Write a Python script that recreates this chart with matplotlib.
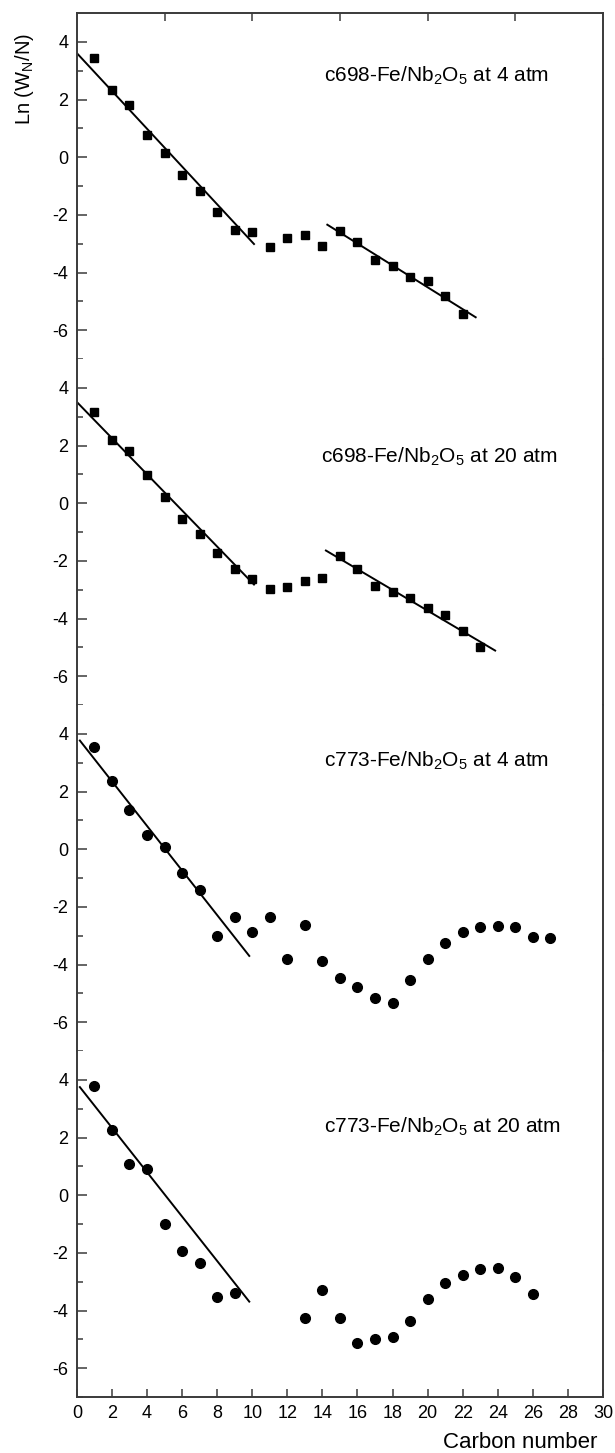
import numpy as np
import matplotlib
matplotlib.use("Agg")
import matplotlib.pyplot as plt

plt.rcParams["font.family"] = ["Liberation Sans", "DejaVu Sans"]
plt.rcParams["mathtext.fontset"] = "custom"
plt.rcParams["mathtext.rm"] = "Liberation Sans"
plt.rcParams["mathtext.default"] = "regular"
plt.rcParams["axes.unicode_minus"] = False

# panel 1: c698 at 4 atm (squares)
n1 = list(range(1, 23))
y1 = [3.45, 2.32, 1.80, 0.78, 0.14, -0.60, -1.18, -1.91, -2.51, -2.60, -3.12,
      -2.81, -2.69, -3.07, -2.55, -2.95, -3.56, -3.76, -4.14, -4.30, -4.80, -5.42]
fit1a_x, fit1a_y = [0.0, 10.1], [3.61, -3.01]
fit1b_x, fit1b_y = [14.28, 22.74], [-2.34, -5.55]

# panel 2: c698 at 20 atm (squares)
n2 = list(range(1, 24))
y2 = [3.16, 2.18, 1.81, 0.99, 0.21, -0.54, -1.06, -1.74, -2.28, -2.63, -2.97,
      -2.89, -2.71, -2.60, -1.82, -2.28, -2.88, -3.09, -3.30, -3.63, -3.88, -4.42, -5.00]
fit2a_x, fit2a_y = [0.0, 10.1], [3.51, -2.82]
fit2b_x, fit2b_y = [14.2, 23.85], [-1.64, -5.11]

# panel 3: c773 at 4 atm (circles)
n3 = list(range(1, 28))
y3 = [3.54, 2.35, 1.37, 0.50, 0.07, -0.83, -1.41, -3.01, -2.34, -2.88, -2.34,
      -3.82, -2.63, -3.86, -4.45, -4.77, -5.17, -5.34, -4.53, -3.82, -3.26,
      -2.88, -2.70, -2.65, -2.68, -3.05, -3.09]
fit3_x, fit3_y = [0.17, 9.83], [3.77, -3.70]

# panel 4: c773 at 20 atm (circles)
n4 = [1, 2, 3, 4, 5, 6, 7, 8, 9, 13, 14, 15, 16, 17, 18, 19, 20, 21, 22, 23, 24, 25, 26]
y4 = [3.80, 2.25, 1.09, 0.91, -0.99, -1.95, -2.36, -3.52, -3.40, -4.27, -3.28,
      -4.27, -5.11, -4.99, -4.91, -4.36, -3.61, -3.03, -2.76, -2.57, -2.53, -2.82, -3.42]
fit4_x, fit4_y = [0.17, 9.83], [3.75, -3.69]

labels = [r"c698-Fe/Nb$_2$O$_5$ at 4 atm",
          r"c698-Fe/Nb$_2$O$_5$ at 20 atm",
          r"c773-Fe/Nb$_2$O$_5$ at 4 atm",
          r"c773-Fe/Nb$_2$O$_5$ at 20 atm"]
label_pos = [(14.1, 0.82), (13.9, 0.717), (14.1, 0.84), (14.1, 0.78)]

panels = [
    (n1, y1, "s", [(fit1a_x, fit1a_y), (fit1b_x, fit1b_y)]),
    (n2, y2, "s", [(fit2a_x, fit2a_y), (fit2b_x, fit2b_y)]),
    (n3, y3, "o", [(fit3_x, fit3_y)]),
    (n4, y4, "o", [(fit4_x, fit4_y)]),
]

fig = plt.figure(figsize=(6.15, 14.53), dpi=100)
left, right = 0.125, 0.9805
bottom, top = 0.0385, 0.991
h = (top - bottom) / 4
spine_c = "#3a3a3a"

for i, (xs, ys, mk, fits) in enumerate(panels):
    ax = fig.add_axes([left, top - (i + 1) * h, right - left, h])
    if mk == "s":
        ax.plot(xs, ys, "s", color="black", markersize=5.5, linestyle="none")
    else:
        ax.plot(xs, ys, "o", color="black", markersize=7, linestyle="none")
    for fx, fy in fits:
        ax.plot(fx, fy, color="black", linewidth=1.4)
    ax.text(label_pos[i][0], label_pos[i][1], labels[i],
            transform=ax.get_xaxis_transform(), fontsize=15, va="center")

    ax.set_xlim(0, 30)
    ax.set_ylim(-7, 5)
    ax.set_yticks([-6, -4, -2, 0, 2, 4])
    ax.set_yticks([-7, -5, -3, -1, 1, 3], minor=True)
    ax.tick_params(axis="y", which="major", direction="in", length=7, width=1.1,
                   color=spine_c, labelsize=13, pad=6, right=False)
    ax.tick_params(axis="y", which="minor", direction="in", length=4, width=1.1,
                   color=spine_c, right=False)

    for side in ["left", "right", "top", "bottom"]:
        ax.spines[side].set_color(spine_c)
        ax.spines[side].set_linewidth(1.4)
    ax.spines["top"].set_visible(i == 0)
    ax.spines["bottom"].set_visible(i == 3)

    if i == 0:
        ax.set_xticks([5, 10, 15, 20, 25])
        ax.tick_params(axis="x", direction="in", length=6, width=1.1, color=spine_c,
                       top=True, bottom=False, labeltop=False, labelbottom=False)
    elif i == 3:
        ax.set_xticks(range(0, 31, 2))
        ax.tick_params(axis="x", direction="in", length=6, width=1.1, color=spine_c,
                       labelsize=13, pad=6, top=False)
    else:
        ax.tick_params(axis="x", bottom=False, top=False, labelbottom=False)

fig.text(0.04, 0.946, r"Ln (W$_N$/N)", rotation=90, fontsize=14.5,
         ha="center", va="center")
fig.text(0.846, 0.007, "Carbon number", fontsize=16, ha="center", va="center")

fig.savefig("out.png", dpi=100)
